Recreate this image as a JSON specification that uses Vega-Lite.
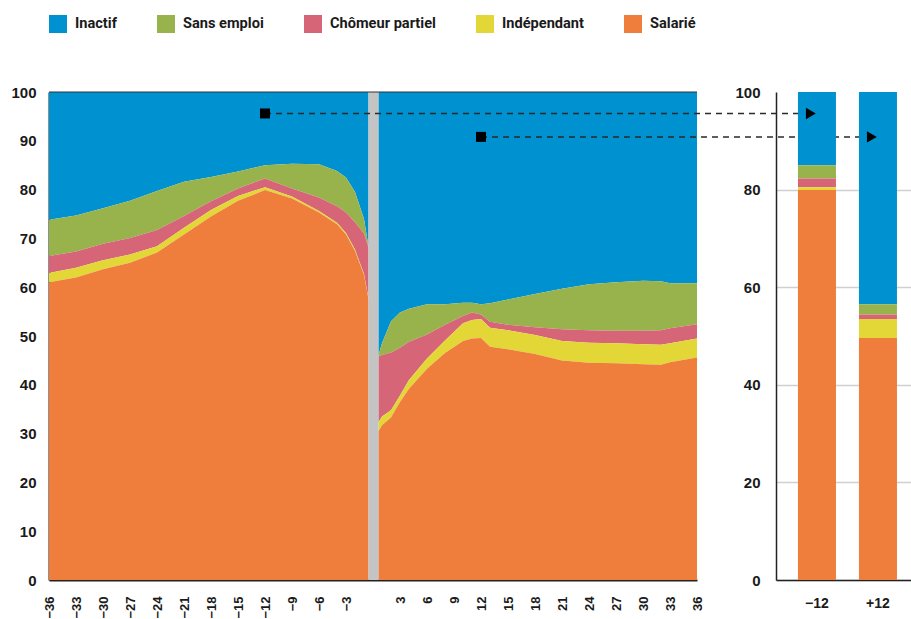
{
  "$schema": "https://vega.github.io/schema/vega-lite/v6.json",
  "background": "white",
  "padding": {"left": 10, "top": 15, "right": 0, "bottom": 0},
  "bounds": "flush",
  "spacing": 79,
  "config": {
    "font": "Liberation Sans",
    "view": {"stroke": null},
    "axis": {"labelFont": "Liberation Sans", "labelFontWeight": "bold", "labelFontSize": 15, "labelColor": "#1a1a1a", "ticks": false, "domainColor": "#222222", "domainWidth": 2, "grid": false, "title": null}
  },
  "datasets": {
    "series": [
      {"statut": "Salarié", "rang": 1},
      {"statut": "Indépendant", "rang": 2},
      {"statut": "Chômeur partiel", "rang": 3},
      {"statut": "Sans emploi", "rang": 4},
      {"statut": "Inactif", "rang": 5}
    ],
    "avant": [
      {"mois": -36, "Salarié": 61.0, "Indépendant": 1.9, "Chômeur partiel": 3.5, "Sans emploi": 7.4, "Inactif": 26.2},
      {"mois": -33, "Salarié": 62.0, "Indépendant": 2.0, "Chômeur partiel": 3.3, "Sans emploi": 7.4, "Inactif": 25.3},
      {"mois": -30, "Salarié": 63.7, "Indépendant": 1.8, "Chômeur partiel": 3.4, "Sans emploi": 7.3, "Inactif": 23.8},
      {"mois": -27, "Salarié": 65.0, "Indépendant": 1.7, "Chômeur partiel": 3.4, "Sans emploi": 7.6, "Inactif": 22.3},
      {"mois": -24, "Salarié": 67.1, "Indépendant": 1.3, "Chômeur partiel": 3.3, "Sans emploi": 8.0, "Inactif": 20.3},
      {"mois": -21, "Salarié": 70.8, "Indépendant": 1.4, "Chômeur partiel": 2.4, "Sans emploi": 7.0, "Inactif": 18.4},
      {"mois": -18, "Salarié": 74.5, "Indépendant": 1.3, "Chômeur partiel": 1.8, "Sans emploi": 5.0, "Inactif": 17.4},
      {"mois": -15, "Salarié": 77.7, "Indépendant": 1.0, "Chômeur partiel": 1.5, "Sans emploi": 3.5, "Inactif": 16.3},
      {"mois": -12, "Salarié": 79.9, "Indépendant": 0.6, "Chômeur partiel": 1.8, "Sans emploi": 2.7, "Inactif": 15.0},
      {"mois": -9, "Salarié": 78.2, "Indépendant": 0.4, "Chômeur partiel": 1.6, "Sans emploi": 5.1, "Inactif": 14.7},
      {"mois": -6, "Salarié": 75.3, "Indépendant": 0.3, "Chômeur partiel": 2.8, "Sans emploi": 6.8, "Inactif": 14.8},
      {"mois": -4, "Salarié": 72.9, "Indépendant": 0.3, "Chômeur partiel": 3.4, "Sans emploi": 7.2, "Inactif": 16.2},
      {"mois": -3, "Salarié": 70.8, "Indépendant": 0.3, "Chômeur partiel": 4.2, "Sans emploi": 7.2, "Inactif": 17.5},
      {"mois": -2, "Salarié": 67.4, "Indépendant": 0.3, "Chômeur partiel": 5.6, "Sans emploi": 6.2, "Inactif": 20.5},
      {"mois": -1, "Salarié": 62.5, "Indépendant": 0.2, "Chômeur partiel": 8.3, "Sans emploi": 3.0, "Inactif": 26.0},
      {"mois": -0.5, "Salarié": 57.5, "Indépendant": 0.2, "Chômeur partiel": 10.5, "Sans emploi": 0.1, "Inactif": 31.7}
    ],
    "apres": [
      {"mois": 0.6, "Salarié": 30.5, "Indépendant": 1.8, "Chômeur partiel": 13.5, "Sans emploi": 0.2, "Inactif": 54.0},
      {"mois": 1, "Salarié": 31.7, "Indépendant": 1.8, "Chômeur partiel": 12.6, "Sans emploi": 2.4, "Inactif": 51.5},
      {"mois": 2, "Salarié": 33.3, "Indépendant": 1.5, "Chômeur partiel": 11.8, "Sans emploi": 6.4, "Inactif": 47.0},
      {"mois": 3, "Salarié": 36.5, "Indépendant": 1.3, "Chômeur partiel": 9.8, "Sans emploi": 7.2, "Inactif": 45.2},
      {"mois": 4, "Salarié": 39.2, "Indépendant": 1.8, "Chômeur partiel": 7.8, "Sans emploi": 6.8, "Inactif": 44.4},
      {"mois": 6, "Salarié": 43.3, "Indépendant": 2.1, "Chômeur partiel": 4.9, "Sans emploi": 6.2, "Inactif": 43.5},
      {"mois": 8, "Salarié": 46.5, "Indépendant": 2.6, "Chômeur partiel": 3.2, "Sans emploi": 4.2, "Inactif": 43.5},
      {"mois": 10, "Salarié": 49.0, "Indépendant": 3.6, "Chômeur partiel": 1.5, "Sans emploi": 2.7, "Inactif": 43.2},
      {"mois": 11, "Salarié": 49.5, "Indépendant": 3.8, "Chômeur partiel": 1.5, "Sans emploi": 2.0, "Inactif": 43.2},
      {"mois": 12, "Salarié": 49.6, "Indépendant": 3.9, "Chômeur partiel": 0.9, "Sans emploi": 2.1, "Inactif": 43.5},
      {"mois": 13, "Salarié": 47.8, "Indépendant": 3.9, "Chômeur partiel": 1.2, "Sans emploi": 3.8, "Inactif": 43.3},
      {"mois": 15, "Salarié": 47.3, "Indépendant": 3.9, "Chômeur partiel": 1.1, "Sans emploi": 5.2, "Inactif": 42.5},
      {"mois": 18, "Salarié": 46.3, "Indépendant": 3.9, "Chômeur partiel": 1.6, "Sans emploi": 6.8, "Inactif": 41.4},
      {"mois": 21, "Salarié": 45.0, "Indépendant": 4.0, "Chômeur partiel": 2.4, "Sans emploi": 8.3, "Inactif": 40.3},
      {"mois": 24, "Salarié": 44.5, "Indépendant": 4.1, "Chômeur partiel": 2.6, "Sans emploi": 9.4, "Inactif": 39.4},
      {"mois": 27, "Salarié": 44.4, "Indépendant": 4.1, "Chômeur partiel": 2.6, "Sans emploi": 9.9, "Inactif": 39.0},
      {"mois": 30, "Salarié": 44.2, "Indépendant": 4.1, "Chômeur partiel": 2.8, "Sans emploi": 10.2, "Inactif": 38.7},
      {"mois": 32, "Salarié": 44.1, "Indépendant": 4.1, "Chômeur partiel": 3.0, "Sans emploi": 10.0, "Inactif": 38.8},
      {"mois": 33, "Salarié": 44.6, "Indépendant": 3.9, "Chômeur partiel": 3.1, "Sans emploi": 9.2, "Inactif": 39.2},
      {"mois": 36, "Salarié": 45.6, "Indépendant": 3.9, "Chômeur partiel": 2.9, "Sans emploi": 8.4, "Inactif": 39.2}
    ],
    "barres": [
      {"mois": "−12", "Salarié": 79.9, "Indépendant": 0.6, "Chômeur partiel": 1.8, "Sans emploi": 2.7, "Inactif": 15.0},
      {"mois": "+12", "Salarié": 49.6, "Indépendant": 3.9, "Chômeur partiel": 0.9, "Sans emploi": 2.1, "Inactif": 43.5}
    ],
    "coupure": [{"debut": -0.5, "fin": 0.6}],
    "fleches": [
      {"depart": -12, "arrivee": 48.7, "niveau": 95.6},
      {"depart": 12, "arrivee": 55.6, "niveau": 90.8}
    ],
    "pointes": [
      {"mois": "−12", "niveau": 95.6},
      {"mois": "+12", "niveau": 90.8}
    ]
  },
  "hconcat": [
    {
      "width": 648,
      "height": 488,
      "layer": [
        {
          "data": {"name": "avant"},
          "transform": [
            {"fold": ["Inactif", "Sans emploi", "Chômeur partiel", "Indépendant", "Salarié"], "as": ["statut", "part"]},
            {"lookup": "statut", "from": {"data": {"name": "series"}, "key": "statut", "fields": ["rang"]}}
          ],
          "mark": {"type": "area", "interpolate": "linear"},
          "encoding": {
            "x": {"field": "mois", "type": "quantitative", "scale": {"domain": [-36, 36], "nice": false, "zero": false},
                  "axis": {"values": [-36, -33, -30, -27, -24, -21, -18, -15, -12, -9, -6, -3, 3, 6, 9, 12, 15, 18, 21, 24, 27, 30, 33, 36], "tickCount": 40, "labelAngle": 270, "labelFontSize": 13, "labelPadding": 16, "labelOverlap": false, "labelBound": false, "labelFlush": false, "title": null}},
            "y": {"field": "part", "type": "quantitative", "stack": "zero", "scale": {"domain": [0, 100], "nice": false},
                  "axis": {"values": [0, 10, 20, 30, 40, 50, 60, 70, 80, 90, 100], "tickCount": 20, "labelPadding": 13, "labelOverlap": false, "title": null}},
            "color": {"field": "statut", "type": "nominal",
                      "scale": {"domain": ["Inactif", "Sans emploi", "Chômeur partiel", "Indépendant", "Salarié"], "range": ["#0091d0", "#98b34c", "#d66677", "#e2d736", "#ef7d3b"]},
                      "legend": {"orient": "none", "legendX": 0, "legendY": -77, "direction": "horizontal", "title": null, "symbolType": "square", "symbolSize": 324, "symbolStrokeWidth": 0, "labelFont": "Roboto", "labelFontSize": 14.6, "labelFontWeight": "bold", "labelColor": "#1a1a1a", "labelOffset": 8, "columnPadding": 40}},
            "order": {"field": "rang", "type": "quantitative"}
          }
        },
        {
          "data": {"name": "apres"},
          "transform": [
            {"fold": ["Inactif", "Sans emploi", "Chômeur partiel", "Indépendant", "Salarié"], "as": ["statut", "part"]},
            {"lookup": "statut", "from": {"data": {"name": "series"}, "key": "statut", "fields": ["rang"]}}
          ],
          "mark": {"type": "area", "interpolate": "linear"},
          "encoding": {
            "x": {"field": "mois", "type": "quantitative"},
            "y": {"field": "part", "type": "quantitative", "stack": "zero"},
            "color": {"field": "statut", "type": "nominal"},
            "order": {"field": "rang", "type": "quantitative"}
          }
        },
        {
          "data": {"name": "coupure"},
          "mark": {"type": "rect", "color": "#c4c4c4"},
          "encoding": {
            "x": {"field": "debut", "type": "quantitative"},
            "x2": {"field": "fin"},
            "y": {"datum": 0, "type": "quantitative"},
            "y2": {"datum": 100}
          }
        },
        {
          "data": {"values": [{}]},
          "mark": {"type": "rule", "color": "#333333", "strokeWidth": 1},
          "encoding": {"y": {"datum": 100, "type": "quantitative"}}
        },
        {
          "data": {"name": "fleches"},
          "mark": {"type": "rule", "strokeDash": [6, 5], "strokeWidth": 1.5, "color": "#2a2a2a"},
          "encoding": {
            "x": {"field": "depart", "type": "quantitative"},
            "x2": {"field": "arrivee"},
            "y": {"field": "niveau", "type": "quantitative"}
          }
        },
        {
          "data": {"name": "fleches"},
          "mark": {"type": "point", "shape": "square", "filled": true, "size": 100, "color": "#000000", "opacity": 1},
          "encoding": {
            "x": {"field": "depart", "type": "quantitative"},
            "y": {"field": "niveau", "type": "quantitative"}
          }
        }
      ]
    },
    {
      "width": 135,
      "height": 488,
      "layer": [
        {
          "data": {"name": "barres"},
          "transform": [
            {"fold": ["Inactif", "Sans emploi", "Chômeur partiel", "Indépendant", "Salarié"], "as": ["statut", "part"]},
            {"lookup": "statut", "from": {"data": {"name": "series"}, "key": "statut", "fields": ["rang"]}}
          ],
          "mark": {"type": "bar"},
          "encoding": {
            "x": {"field": "mois", "type": "nominal", "sort": ["−12", "+12"],
                  "scale": {"paddingInner": 0.377, "paddingOuter": 0.295, "align": 0.61},
                  "axis": {"labelAngle": 0, "labelFontSize": 14, "labelPadding": 16, "domainWidth": 1.5, "title": null}},
            "y": {"field": "part", "type": "quantitative", "stack": "zero", "scale": {"domain": [0, 100], "nice": false},
                  "axis": {"values": [0, 20, 40, 60, 80, 100], "tickCount": 20, "grid": true, "gridColor": {"condition": {"test": "datum.value >= 100", "value": "transparent"}, "value": "#d0d0d0"}, "gridWidth": 1.5, "labelPadding": 16, "domainWidth": 1.5, "title": null}},
            "color": {"field": "statut", "type": "nominal",
                      "scale": {"domain": ["Inactif", "Sans emploi", "Chômeur partiel", "Indépendant", "Salarié"], "range": ["#0091d0", "#98b34c", "#d66677", "#e2d736", "#ef7d3b"]},
                      "legend": null},
            "order": {"field": "rang", "type": "quantitative"}
          }
        },
        {
          "data": {"name": "pointes"},
          "mark": {"type": "point", "shape": "triangle-right", "filled": true, "size": 130, "color": "#000000", "opacity": 1},
          "encoding": {
            "x": {"field": "mois", "type": "nominal", "sort": ["−12", "+12"], "bandPosition": 0.34},
            "y": {"field": "niveau", "type": "quantitative"}
          }
        }
      ]
    }
  ]
}
